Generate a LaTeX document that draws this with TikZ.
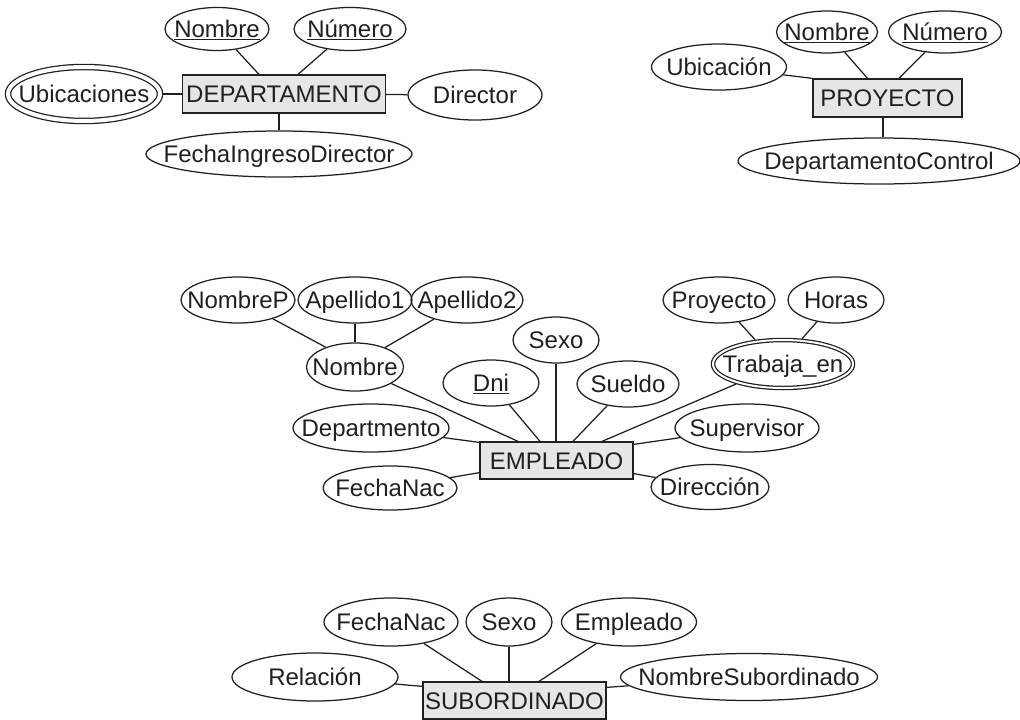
\documentclass[tikz,border=0pt]{standalone}
\usepackage{fontspec}
\setmainfont{Liberation Sans}
\usetikzlibrary{shapes.geometric,calc}
\definecolor{txt}{HTML}{231F20}
\definecolor{linec}{HTML}{231F20}
\definecolor{boxfill}{HTML}{E6E6E6}
\newcommand{\ctext}[1]{\makebox[0pt]{\raisebox{-0.36em}[0pt][0pt]{#1}}}
\tikzset{
  lab/.style={font=\fontsize{24}{28}\selectfont, text=txt, inner sep=0pt},
  attr/.style={lab, ellipse, draw=linec, line width=1.25pt},
  ent/.style={lab, rectangle, draw=linec, fill=boxfill, line width=1.25pt},
  mvattr/.style={attr, double=white, double distance=#1, outer sep=#1/2+1.25pt},
  conn/.style={draw=linec, line width=1.25pt},
}
\begin{document}
\begin{tikzpicture}[x=1pt,y=-1pt]
\useasboundingbox (0,0) rectangle (1020,720);
\fill[white] (0,0) rectangle (1020,720);

% ---------- DEPARTAMENTO ----------
\node[ent, minimum width=203pt, minimum height=38pt] (dept) at (284,94) {\ctext{DEPARTAMENTO}};
\node[attr, minimum width=104pt, minimum height=43pt] (dnom) at (217,29) {\ctext{\underline{Nombre}}};
\node[attr, minimum width=112pt, minimum height=43pt] (dnum) at (350,29) {\ctext{\underline{Número}}};
\node[mvattr=4pt, minimum width=152pt, minimum height=54pt] (dubi) at (84,94) {\ctext{Ubicaciones}};
\node[attr, minimum width=134pt, minimum height=50pt] (ddir) at (475,95) {\ctext{Director}};
\node[attr, minimum width=266pt, minimum height=46pt] (dfec) at (279,154) {\ctext{FechaIngresoDirector}};

\draw[conn] (dnom) -- ([xshift=-25pt]dept.north);
\draw[conn] (dnum) -- ([xshift=14pt]dept.north);
\draw[conn] (dubi) -- (dept);
\draw[conn] (dept) -- (ddir);
\draw[conn] (dept.south -| dfec) -- (dfec);

% ---------- PROYECTO ----------
\node[ent, minimum width=149pt, minimum height=38pt] (proy) at (887.5,98) {\ctext{PROYECTO}};
\node[attr, minimum width=101pt, minimum height=42pt] (pnom) at (827,32) {\ctext{\underline{Nombre}}};
\node[attr, minimum width=113pt, minimum height=42pt] (pnum) at (945,32) {\ctext{\underline{Número}}};
\node[attr, minimum width=135pt, minimum height=46pt] (pubi) at (719,67) {\ctext{Ubicación}};
\node[attr, minimum width=282pt, minimum height=46pt] (pdc) at (879,161) {\ctext{DepartamentoControl}};

\draw[conn] (pubi) -- (proy.north west);
\draw[conn] (pnom) -- ([xshift=-20pt]proy.north);
\draw[conn] (pnum) -- ([xshift=11.5pt]proy.north);
\draw[conn] ([xshift=-4.5pt]proy.south) -- ([xshift=-4.5pt]proy.south |- pdc.north);

% ---------- EMPLEADO ----------
\node[ent, minimum width=153pt, minimum height=37pt] (emp) at (556.5,460.5) {\ctext{EMPLEADO}};
\node[attr, minimum width=114pt, minimum height=46pt] (enp) at (238,300) {\ctext{NombreP}};
\node[attr, minimum width=114pt, minimum height=46pt] (eap1) at (355,300) {\ctext{Apellido1}};
\node[attr, minimum width=112pt, minimum height=46pt] (eap2) at (467,300) {\ctext{Apellido2}};
\node[attr, minimum width=97pt, minimum height=48pt] (enom) at (355,367) {\ctext{Nombre}};
\node[attr, minimum width=86pt, minimum height=46pt] (esex) at (556,340) {\ctext{Sexo}};
\node[attr, minimum width=96pt, minimum height=46pt] (edni) at (491,383) {\ctext{\underline{Dni}}};
\node[attr, minimum width=102pt, minimum height=46pt] (esue) at (628,384) {\ctext{Sueldo}};
\node[mvattr=2pt, minimum width=140pt, minimum height=48pt] (etra) at (783,364) {\ctext{Trabaja\_en}};
\node[attr, minimum width=112pt, minimum height=46pt] (epro) at (719,300) {\ctext{Proyecto}};
\node[attr, minimum width=96pt, minimum height=46pt] (ehor) at (836,300) {\ctext{Horas}};
\node[attr, minimum width=156pt, minimum height=48pt] (edep) at (371,428) {\ctext{Departmento}};
\node[attr, minimum width=144pt, minimum height=48pt] (esup) at (747,428) {\ctext{Supervisor}};
\node[attr, minimum width=134pt, minimum height=44pt] (efec) at (390,488) {\ctext{FechaNac}};
\node[attr, minimum width=118pt, minimum height=45pt] (edir) at (710,487) {\ctext{Dirección}};

\draw[conn] (enp) -- (enom.146);
\draw[conn] (eap1) -- (enom);
\draw[conn] (eap2) -- (enom.33);
\draw[conn] (enom) -- ([xshift=-38.5pt]emp.north);
\draw[conn] (edni) -- ([xshift=-16.5pt]emp.north);
\draw[conn] (esex) -- (esex |- emp.north);
\draw[conn] (esue) -- ([xshift=16.5pt]emp.north);
\draw[conn] (etra) -- ([xshift=45.5pt]emp.north);
\draw[conn] (epro) -- (etra.139);
\draw[conn] (ehor) -- (etra.53);
\draw[conn] (esup) -- ([yshift=-3pt]emp.north east);
\draw[conn] (edir) -- ([yshift=6pt]emp.south east);
\draw[conn] (edep) -- ([yshift=-1pt]emp.north west);
\draw[conn] (efec) -- ([yshift=7pt]emp.south west);

% ---------- SUBORDINADO ----------
\node[ent, minimum width=183pt, minimum height=37pt] (sub) at (514.5,700.5) {\ctext{SUBORDINADO}};
\node[attr, minimum width=134pt, minimum height=48pt] (sfec) at (391,622) {\ctext{FechaNac}};
\node[attr, minimum width=86pt, minimum height=48pt] (ssex) at (509,622) {\ctext{Sexo}};
\node[attr, minimum width=135pt, minimum height=48pt] (semp) at (629,622) {\ctext{Empleado}};
\node[attr, minimum width=166pt, minimum height=48pt] (srel) at (315,677) {\ctext{Relación}};
\node[attr, minimum width=257pt, minimum height=47pt] (snom) at (749,677) {\ctext{NombreSubordinado}};

\draw[conn] (sfec) -- ([xshift=-32.5pt]sub.north);
\draw[conn] (ssex) -- (ssex |- sub.north);
\draw[conn] (semp) -- ([xshift=24.5pt]sub.north);
\draw[conn] (srel) -- ([yshift=-5pt]sub.north west);
\draw[conn] (snom) -- ([yshift=-6pt]sub.north east);
\end{tikzpicture}
\end{document}
